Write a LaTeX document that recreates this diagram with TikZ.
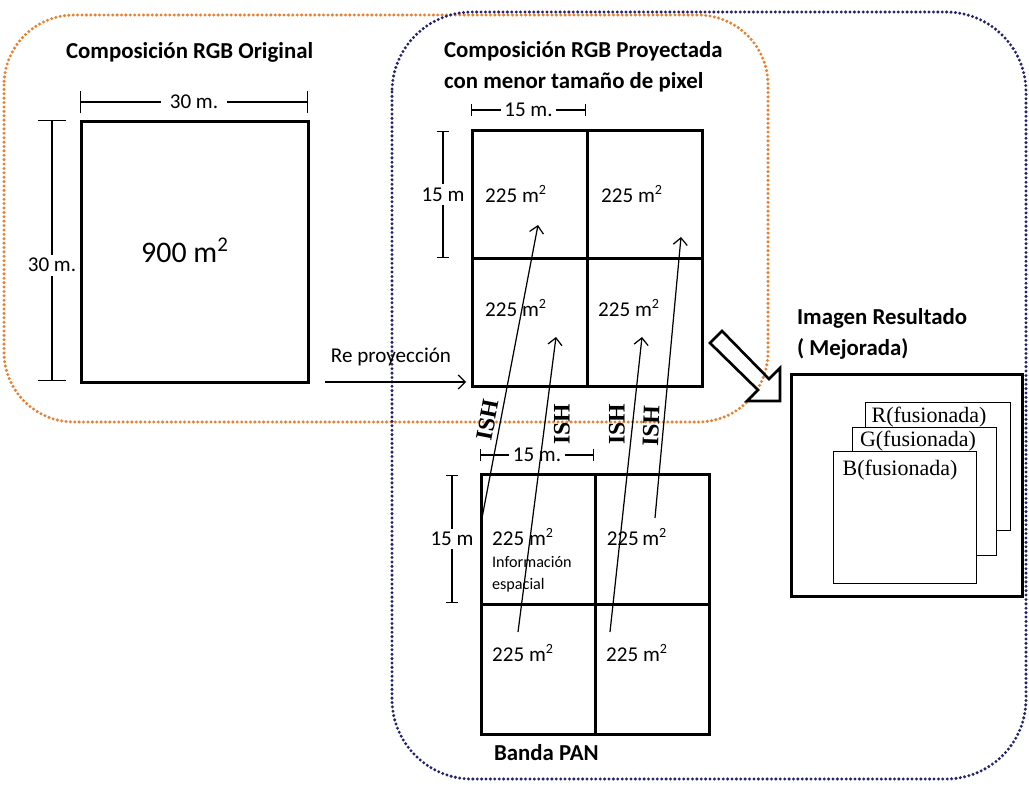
\documentclass[tikz,border=0pt]{standalone}
\usepackage{fontspec}
\setmainfont{Carlito}
\newfontfamily\tnr{Liberation Serif}
\usetikzlibrary{arrows.meta, positioning, calc}
\definecolor{orangedot}{RGB}{232,128,48}
\definecolor{navydot}{RGB}{35,35,110}
\newcommand{\sqm}{m\textsuperscript{2}}

\begin{document}
\begin{tikzpicture}[x=0.02cm, y=-0.02cm,
  every node/.style={font=\fontsize{12}{14}\selectfont, inner sep=1pt},
  cell/.style={draw, line width=1.5pt, anchor=north west, inner sep=0pt},
  dimline/.style={line width=0.8pt, {Bar[width=#1]}-{Bar[width=#1]}},
  dimline/.default=7pt,
  dimtext/.style={fill=white, inner sep=2pt},
  title/.style={font=\fontsize{13}{17.5}\selectfont\bfseries, align=left, anchor=west},
  band/.style={draw, fill=white, line width=0.8pt, anchor=north west, inner sep=0pt},
  bandtext/.style={font=\tnr\fontsize{12.5}{14}\selectfont},
  ray/.style={line width=0.7pt, -{Straight Barb[length=4pt, width=8pt]}},
  ish/.style={font=\tnr\bfseries\fontsize{13.5}{14}\selectfont, inner sep=0pt},
  halo/.style={line width=1.9pt, dash pattern=on 0pt off 2.5pt, line cap=round, rounded corners=#1}
]
\useasboundingbox (0,0) rectangle (1029,787);

% dotted groups
\draw[halo=1.4cm, draw=orangedot] (4,15) rectangle (768,422);
\draw[halo=1.6cm, draw=navydot] (392,12) rectangle (1026,779);

% original composition
\node[title] (torig) at (64,52) {Composición RGB Original};
\node[cell, minimum width=4.54cm, minimum height=5.22cm] (orig) at (80,120) {};
\node[font=\fontsize{17}{20}\selectfont] (a900) at (185,250) {900 \sqm};
\draw[dimline=13pt] (80,102) -- (308,102) node[midway, dimtext, inner xsep=5pt] (w30) {30 m.};
\draw[dimline=16pt] (52,120) -- (52,381) node[pos=0.556, dimtext] (h30) {30 m.};

% projected composition
\node[title] (tproj) at (442,67) {Composición RGB Proyectada\\con menor tamaño de pixel};
\foreach \r in {0,1}{
  \foreach \c in {0,1}{
    \node[cell, minimum width=2.3cm, minimum height=2.56cm] (p\r\c) at ({471+\c*115},{129+\r*128}) {};
  }
}
\node (pa00) at (516,194) {225 \sqm};
\node (pa01) at (632,194) {225 \sqm};
\node (pa10) at (516,308) {225 \sqm};
\node (pa11) at (629,308) {225 \sqm};
\draw[dimline] (471,110) -- (586,110) node[midway, dimtext] (wp) {15 m.};
\draw[dimline] (443,131) -- (443,258) node[midway, dimtext] (hp) {15 m};

% reprojection
\node (rp) at (391,357) {Re proyección};
\coordinate (rps) at (325,382);
\coordinate (rpe) at (466,382);
\draw[ray] (rps) -- (rpe);

% PAN band
\foreach \r in {0,1}{
  \foreach \c in {0,1}{
    \node[cell, minimum width=2.28cm, minimum height=2.6cm] (b\r\c) at ({480+\c*114},{473+\r*130}) {};
  }
}
\node (ba00) at (523,537) {225 \sqm};
\node[font=\fontsize{9.2}{11}\selectfont, anchor=west] (info) at (490,562) {Información};
\node[font=\fontsize{9.2}{11}\selectfont, anchor=west] (esp) at (490,585) {espacial};
\node (ba01) at (637,537) {225\,\sqm};
\node (ba10) at (523,653) {225 \sqm};
\node (ba11) at (637,653) {225 \sqm};
\draw[dimline] (480,455) -- (594,455) node[midway, dimtext] (wb) {15 m.};
\draw[dimline] (452,475) -- (452,603) node[midway, dimtext] (hb) {15 m};
\node[font=\fontsize{13}{15}\selectfont\bfseries, anchor=west] (tpan) at (492,753) {Banda PAN};

% ISH fusion rays
\coordinate (s1) at (482,518); \coordinate (e1) at (538,225);
\coordinate (s2) at (518,632); \coordinate (e2) at (556,337);
\coordinate (s3) at (610,632); \coordinate (e3) at (642,337);
\coordinate (s4) at (655,518); \coordinate (e4) at (681,237);
\foreach \i in {1,...,4}{
  \draw[ray] (s\i) -- (e\i);
}
\node[ish, rotate=79] (ish1) at (488,420) {ISH};
\node[ish, rotate=90] (ish2) at (562,424) {ISH};
\node[ish, rotate=90] (ish3) at (617,424) {ISH};
\node[ish, rotate=88] (ish4) at (651,426) {ISH};

% hollow arrow
\draw[line width=1.5pt, line join=miter] (710,343) -- (758,390) -- (747,401) -- (780,401)
  -- (780,368) -- (769,379) -- (722,331) -- cycle;

% result image
\node[title] (tres) at (795,334) {Imagen Resultado\\( Mejorada)};
\node[cell, line width=1.7pt, minimum width=4.62cm, minimum height=4.44cm] (res) at (790,373) {};
\node[band, minimum width=2.9cm, minimum height=2.56cm] (rb) at (865,402) {};
\node[bandtext] (rt) at (929,417) {R(fusionada)};
\node[band, minimum width=2.88cm, minimum height=2.56cm] (gb) at (852,427) {};
\node[bandtext] (gt) at (918,441) {G(fusionada)};
\node[band, minimum width=2.86cm, minimum height=2.64cm] (bb) at (833,451) {};
\node[bandtext] (bt) at (900,470) {B(fusionada)};
\end{tikzpicture}
\end{document}
